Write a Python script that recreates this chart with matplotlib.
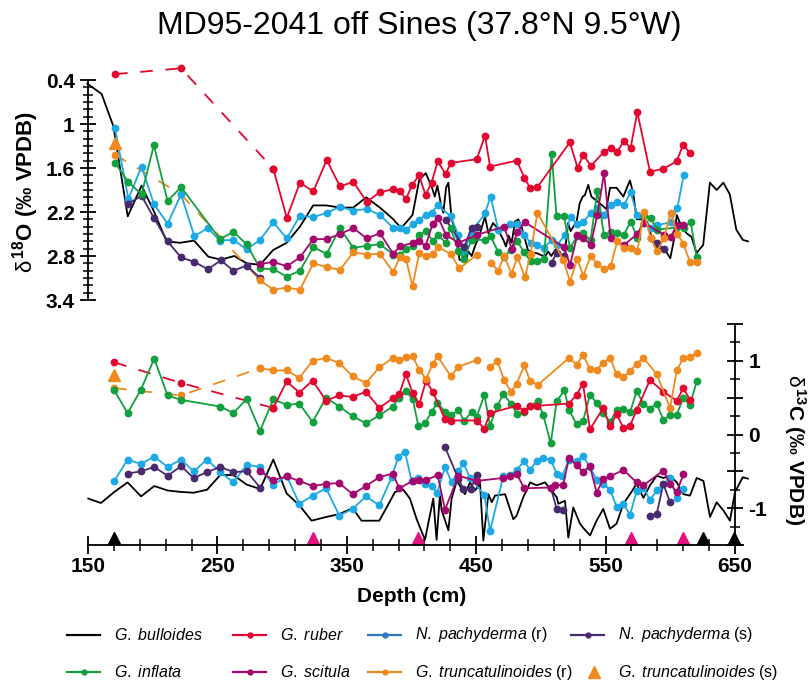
import numpy as np
import matplotlib
matplotlib.use("Agg")
import matplotlib.pyplot as plt
from matplotlib.lines import Line2D
from matplotlib.ticker import FixedLocator, MultipleLocator, FuncFormatter

plt.rcParams['font.family'] = ['Liberation Sans', 'DejaVu Sans']
plt.rcParams['mathtext.fontset'] = 'custom'
plt.rcParams['mathtext.rm'] = 'Liberation Sans'
plt.rcParams['mathtext.it'] = 'Liberation Sans:italic'
plt.rcParams['mathtext.bf'] = 'Liberation Sans:bold'
plt.rcParams['axes.unicode_minus'] = False
nan = np.nan

# ---------------- delta 18O (top panel) ----------------
bul18_d = [149.5,160.5,169.6,180.7,191.4,200.4,210.7,221,232,243,252.8,263,272.6,283,293,303.5,313.8,324,334,345,355,365,375.6,386,392,400.8,406,411,415.5,418,420,423,424.6,426.7,428.5,431,435,437,441.5,444,446.5,449,453,456.8,459.4,463,465.5,471,473,475,477.4,480,482.5,485,490,492.7,496.6,503,505.6,508,511,516,518.6,521,523,527.6,530,532.3,534,536.6,539,548,550.6,553.4,558.5,563.7,568.8,571.4,574,579,583,588,596,600,602.8,605,608.7,612.6,616.4,620.3,625.4,630.6,635.8,641,646,651,656,660]
bul18_v = [0.45,0.59,1.03,2.26,1.84,2.17,2.6,2.62,2.59,2.81,2.85,2.8,2.9,2.92,2.72,2.62,2.4,2.11,2.11,2.14,2.14,2.0,2.14,2.3,2.42,2.24,1.76,1.67,1.85,1.99,1.84,2.12,2.21,1.87,1.8,2.3,2.49,2.85,2.88,2.74,2.8,2.67,2.49,2.26,2.49,2.35,2.4,2.58,2.67,2.52,2.62,2.33,2.3,2.4,2.72,2.75,2.76,2.81,2.74,2.8,2.72,2.65,2.74,2.35,2.46,2.33,2.08,1.99,1.97,1.83,1.99,2.12,2.16,1.87,1.87,1.99,1.77,1.95,2.3,2.3,2.4,2.67,2.72,2.83,2.58,2.24,2.4,2.49,2.54,2.76,2.65,1.8,1.9,1.8,1.96,2.44,2.58,2.6]

rub18_dash_d = [170.9,221.9,293.2]
rub18_dash_v = [0.32,0.24,1.61]
rub18_d = [293.2,303.6,313.8,324.1,334.5,344.7,355,365.4,375.7,385.9,391.1,395.7,400.6,405.8,410.9,415.5,420.2,426.4,430.5,450.4,456.8,460.7,481.3,487.2,491.6,497.3,522.4,528.4,532.7,538.7,548.8,553.9,559,564.2,569.3,574.5,584.3,594.6,604.9,610,615.2]
rub18_v = [1.61,2.28,1.80,1.92,1.49,1.85,1.79,2.06,1.93,1.89,1.92,2.02,1.83,1.70,1.97,1.80,1.51,1.68,1.53,1.48,1.16,1.58,1.50,1.73,1.87,1.86,1.25,1.60,1.42,1.57,1.38,1.33,1.38,1.23,1.33,0.84,1.65,1.61,1.51,1.28,1.40]

npr18_d = [170.9,181.2,191.4,200.9,211.5,221.9,232.2,242.5,252,262.3,272.6,283,293.2,303.6,313.8,324.1,334.5,344.7,355,365.4,375.7,385.9,391,395.7,400.8,405.8,411,415.5,420.2,430.5,436.2,440.6,446.4,456.8,461.1,467.1,476.1,481.8,487,492,497.3,502.4,508.3,512.7,518.6,523,528.1,532.8,538.4,543.6,548.8,553.9,559,564.2,569.3,574.5,579.7,584.8,589.9,600.3,605.4,610.3]
npr18_v = [1.06,2.02,1.58,2.09,2.36,1.96,2.53,2.42,2.59,2.58,2.71,2.58,2.34,2.56,2.25,2.27,2.21,2.13,2.18,2.16,2.24,2.42,2.42,2.45,2.37,2.31,2.24,2.21,2.11,2.26,2.52,2.75,2.47,2.22,1.99,2.44,2.37,2.36,2.51,2.62,2.65,2.69,2.58,2.65,2.51,2.27,2.37,2.34,2.21,2.15,2.24,2.10,2.07,2.11,1.93,2.24,2.26,2.42,2.38,2.34,2.15,1.70]

nps18_d = [180.6,191.4,200.9,211.5,221.9,232.2,242.5,252.8,262.3,272.6,283,nan,426.7,440.6,446.4,450.8,nan,508.3,512.1,517.9,nan,584.8,589.9,595.1]
nps18_v = [2.09,1.98,2.28,2.60,2.82,2.88,2.98,2.86,3.00,2.93,3.10,nan,2.31,2.68,2.42,2.40,nan,2.89,2.76,2.80,nan,2.56,2.62,2.71]

inf18_d = [170.9,181.2,191.4,200.9,211.5,221.9,252,262.3,272.6,283,293.2,303.6,313.8,324.1,334.5,344.7,355,365.4,375.7,385.9,391,395.7,400.8,406,411,416.3,420.7,426.7,430.2,436.2,440.6,446.4,456.8,461.1,467.1,471.5,476.6,481.8,487,492,497.3,502.4,508.3,512.1,517.9,522.5,528.1,532.8,538.4,543.6,548.8,553.9,559,564.2,569.3,574.5,579.7,584.8,589.9,605,610.3,615.7,620.3]
inf18_v = [1.53,1.79,1.96,1.29,2.05,1.86,2.57,2.47,2.64,2.97,2.98,3.08,3.00,2.68,2.77,2.42,2.69,2.66,2.64,2.78,2.78,2.71,2.67,2.52,2.46,2.59,2.52,2.62,2.42,2.73,2.84,2.58,2.58,2.53,2.75,2.81,2.72,2.60,2.75,2.87,2.87,2.84,1.41,2.26,2.26,2.69,2.53,2.49,2.58,1.92,2.52,2.47,2.48,2.51,2.33,2.55,2.26,2.28,2.44,2.41,2.42,2.33,2.81]

sci18_d = [283,293.2,303.6,313.8,324.1,334.5,344.7,355,365.4,375.7,385.9,391,400.8,406,411,416.3,420.7,426.7,436.2,450.8,471.5,477.4,481.8,487.7,517.9,522.5,528.1,532.8,538.4,543.6,548.8,553.9,564.2,574.5,579.7,595.1,600.3,605,610]
sci18_v = [2.91,2.88,2.94,2.82,2.57,2.57,2.50,2.42,2.56,2.49,2.77,2.67,2.62,2.60,2.66,2.36,2.28,2.51,2.62,2.51,2.40,2.70,2.47,2.34,2.68,2.92,2.52,2.55,2.65,2.24,1.67,2.56,2.65,2.50,2.35,2.51,2.54,2.38,2.38]

trr18_dash_d = [170.9,221.9,283]
trr18_dash_v = [1.42,1.96,3.13]
trr18_d = [283,293.2,303.6,313.8,324.1,334.5,344.7,355,365.4,375.7,385.9,391,395.7,400.8,406,411,416.3,420.7,430.2,437,450.8,nan,461.1,467.1,471.5,477.4,481.8,487.7,492,497.3,517.3,522.5,528.1,532.8,538.4,543.6,548.8,553.9,559,564.2,569.3,574.5,579.7,584.8,589.9,595,600.3,605.4,610,615.2,620.3]
trr18_v = [3.13,3.26,3.23,3.26,2.90,2.95,2.99,2.75,2.78,2.77,3.02,2.81,2.84,3.21,2.76,2.80,2.77,2.68,2.77,2.97,2.78,nan,2.89,3.00,2.80,3.04,2.81,3.09,2.77,2.21,2.85,3.15,2.84,3.07,2.80,2.91,2.98,2.94,2.60,2.69,2.69,2.73,2.20,2.56,2.73,2.56,2.21,2.50,2.63,2.88,2.88]

trs18_d = [170.9]
trs18_v = [1.26]

# ---------------- delta 13C (bottom panel) ----------------
bul13_d = [150.2,160,170.3,180.6,191,201.2,211.6,221.9,231.7,242,252.2,262.3,272.6,283,293.2,303.5,313.3,322.8,334,344.2,354.5,361.4,375.1,380.8,387.3,393.7,398.8,404,410.4,416.8,419.4,422,423.3,428.5,431,435,441.3,445.2,449,453,455.5,459.4,462,464.5,472.3,478.7,481.3,486.4,489,491.6,496.7,503.2,512.2,513.5,518.6,521.2,525,530.2,532.8,538,543,548.2,553.4,558.5,563.7,568.9,574,579.2,584.3,589.5,594.6,599.8,605,610.1,615.2,620.4,625.6,630.7,635.8,641,646.1,650,656,660]
bul13_v = [-0.87,-0.93,-0.78,-0.65,-0.84,-0.70,-0.76,-0.78,-0.79,-0.75,-0.55,-0.55,-0.68,-0.74,-0.34,-0.80,-0.96,-1.17,-1.12,-1.08,-1.00,-1.17,-1.17,-0.99,-0.78,-0.75,-0.87,-1.15,-1.43,-0.87,-1.43,-0.81,-1.03,-1.30,-0.87,-0.63,-0.81,-0.65,-0.76,-0.67,-1.44,-0.81,-0.92,-0.83,-0.81,-1.15,-1.10,-0.85,-0.76,-0.65,-0.69,-0.65,-0.85,-0.94,-0.90,-1.40,-0.99,-1.21,-1.27,-1.37,-1.17,-1.01,-1.28,-1.21,-0.94,-0.81,-0.67,-0.86,-0.69,-0.56,-0.59,-0.56,-0.65,-0.81,-0.83,-0.59,-0.63,-1.12,-0.92,-1.03,-1.17,-0.78,-0.58,-0.60]

rub13_dash_d = [170.3,221.9,293.2]
rub13_dash_v = [0.98,0.70,0.36]
rub13_d = [293.2,303.5,313.3,323.6,334,344.2,354.5,364.8,375.1,385.5,390.6,395.7,400.9,406,411.2,416.4,425.9,430.5,450.4,456.3,460.7,481.3,487,491.6,497.3,521.7,527.6,532.5,537.9,548.2,553.4,558.5,563.7,568.9,574,584.3,594.6,605,610.1,615.2]
rub13_v = [0.36,0.72,0.57,0.73,0.46,0.53,0.51,0.58,0.36,0.49,0.55,0.82,0.56,0.41,0.73,0.58,0.21,0.19,0.19,0.08,0.29,0.39,0.32,0.39,0.39,0.42,0.54,0.69,0.07,0.36,0.11,0.28,0.09,0.12,0.33,0.74,0.58,0.46,0.63,0.47]

trr13_dash_d = [170.3,221.9,283]
trr13_dash_v = [0.63,0.53,0.90]
trr13_d = [283,293.2,303.5,313.3,323.6,334,344.2,354.5,364.8,375.1,385.5,390.6,395.7,400.9,406,411.2,416.4,420.2,430.5,436.2,450.4,nan,460.7,466.3,471.5,476.9,481.3,487.2,491.6,497.5,521.7,527.6,532.5,537.9,543.1,548.2,553.4,558.5,563.7,568.9,574,579.2,589.5,599.8,605,610.1,615.2,620.4]
trr13_v = [0.90,0.87,0.87,0.77,1.00,1.04,0.97,0.79,0.70,0.91,1.04,1.01,1.05,1.06,0.88,0.75,0.96,1.06,0.79,0.92,1.01,nan,0.91,1.00,0.74,0.58,0.69,0.94,0.73,0.67,1.04,0.95,1.08,0.89,0.88,0.97,1.04,0.82,0.78,0.86,0.96,1.04,0.82,0.36,0.87,1.04,1.05,1.11]

trs13_d = [170.3]
trs13_v = [0.81]

inf13_d = [170.3,180.6,190.9,201.2,211.5,221.9,252.2,262.3,272.6,283,293.2,303.5,313.3,323.6,334,344.2,354.5,364.8,375.1,385.5,390.6,395.7,400.9,405.3,410.4,415.6,419.9,425.9,430.5,436.2,440.6,446.4,450.4,456.3,460.7,466.3,471,476.9,481.3,487.2,491.6,497.5,501.9,507.6,512.2,518.1,521.7,527.6,532.5,537.9,543.1,548.2,553.4,558.5,563.7,568.9,574,579.2,584.3,589.5,594.6,599.8,605,610.1,615.2,620.4]
inf13_v = [0.60,0.29,0.61,1.03,0.53,0.47,0.38,0.29,0.48,0.05,0.48,0.40,0.42,0.17,0.50,0.38,0.25,0.15,0.26,0.38,0.50,0.59,0.48,0.12,0.15,0.31,0.43,0.31,0.26,0.33,0.19,0.30,0.24,0.54,0.12,0.39,0.55,0.42,0.28,0.30,0.39,0.45,0.26,-0.12,0.45,0.60,0.33,0.14,0.18,0.54,0.43,0.29,0.17,0.33,0.34,0.30,0.59,0.42,0.35,0.42,0.20,0.26,0.27,0.50,0.40,0.72]

npr13_d = [170.3,180.6,190.9,201.2,211.5,221.9,231.7,242,252.2,262.3,272.6,283,293.2,303.5,313.3,323.6,334,344.2,354.5,364.8,375.1,384.7,389.8,395,400.1,405.3,410.4,415.6,419.9,425.9,431,436.2,440.1,445.3,456.3,460.7,471,476.1,481.3,487,491.6,496.7,501.9,507.6,512.2,516.6,521.7,527.6,532.5,537.9,543.1,548.2,553.4,558.5,563.7,568.9,574,579.2,584.3,589.5,599.8,605,610.1]
npr13_v = [-0.63,-0.34,-0.40,-0.30,-0.44,-0.34,-0.50,-0.34,-0.51,-0.65,-0.41,-0.44,-0.69,-0.56,-0.94,-0.83,-0.73,-1.10,-1.01,-0.84,-0.96,-0.58,-0.30,-0.24,-0.63,-0.59,-0.67,-0.70,-0.79,-0.44,-0.65,-0.50,-0.39,-0.59,-0.82,-1.31,-0.56,-0.55,-0.48,-0.36,-0.48,-0.36,-0.32,-0.34,-0.53,-0.56,-0.34,-0.36,-0.29,-0.44,-0.62,-0.67,-0.75,-0.98,-0.94,-1.09,-0.77,-0.72,-0.89,-0.76,-0.59,-0.86,-0.74]

sci13_d = [283,293.2,303.5,313.3,323.6,334,344.2,354.5,364.8,375.1,385.5,390.6,400.9,406,411.2,420.2,425.9,436.2,450.4,471,476.1,481.3,487,507.6,511,517.3,521.7,527.6,532.5,537.9,543.1,548.2,553.4,563.7,574,579.2,594.6,599.8,605,610.1]
sci13_v = [-0.50,-0.62,-0.57,-0.63,-0.70,-0.67,-0.66,-0.81,-0.70,-0.58,-0.53,-0.73,-0.63,-0.62,-0.62,-0.55,-1.02,-0.56,-0.63,-0.59,-0.56,-0.53,-0.73,-0.72,-0.69,-0.68,-0.32,-0.42,-0.51,-0.43,-0.79,-0.60,-0.57,-0.48,-0.65,-0.69,-0.49,-0.67,-0.78,-0.54]

nps13_d = [180.6,190.9,201.2,211.5,221.9,231.7,242,252.2,262.3,272.6,283,nan,425.9,436.2,440.1,445.7,450.4,nan,507.6,512.2,517.3,nan,584.3,589.5,594.6,599.8]
nps13_v = [-0.53,-0.50,-0.44,-0.56,-0.43,-0.59,-0.51,-0.44,-0.51,-0.50,-0.72,nan,-0.17,-0.60,-0.74,-0.74,-0.55,nan,-0.72,-1.01,-1.02,nan,-1.10,-1.08,-0.67,-0.92]

# age-control markers along the depth axis
tri_black_d = [170, 625, 649]
tri_pink_d = [324, 405, 569.5, 610]

# ---------------- styling ----------------
C_BUL = '#000000'
C_RUB = '#E3062F'
C_NPR = '#1DA9E6'
C_NPR_LEG = '#2F78C2'
C_NPS = '#4A2A6E'
C_INF = '#12A03E'
C_SCI = '#A4086E'
C_TRR = '#F08A1F'

W, H = 809, 682
fig = plt.figure(figsize=(W / 100, H / 100), dpi=100)
ax1 = fig.add_axes([88 / W, 1 - 300 / H, 647 / W, 220 / H])
ax2 = fig.add_axes([88 / W, 1 - 545 / H, 647 / W, 221 / H])

LW = 1.3
MS = 4.6


def dashed(ax, d, v, color):
    ax.plot(d, v, color=color, lw=LW, ls=(0, (7, 7)), clip_on=False)
    ax.plot(d, v, 'o', color=color, ms=MS, clip_on=False)


for ax in (ax1, ax2):
    ax.set_xlim(150, 650)
    ax.patch.set_alpha(0)

# top panel
ax1.plot(bul18_d, bul18_v, color=C_BUL, lw=LW, clip_on=False)
dashed(ax1, rub18_dash_d, rub18_dash_v, C_RUB)
dashed(ax1, trr18_dash_d[:2], trr18_dash_v[:2], C_TRR)
ax1.plot(trr18_dash_d[1:], trr18_dash_v[1:], color=C_TRR, lw=LW, ls=(0, (7, 7)))
for d, v, c in [(npr18_d, npr18_v, C_NPR), (nps18_d, nps18_v, C_NPS),
                (inf18_d, inf18_v, C_INF), (sci18_d, sci18_v, C_SCI),
                (trr18_d, trr18_v, C_TRR), (rub18_d, rub18_v, C_RUB)]:
    ax1.plot(d, v, '-o', color=c, lw=LW, ms=MS, clip_on=False)
ax1.plot(trs18_d, trs18_v, '^', color=C_TRR, ms=8, clip_on=False)

ax1.set_ylim(3.4, 0.4)
for s in ('top', 'right', 'bottom'):
    ax1.spines[s].set_visible(False)
ax1.spines['left'].set_linewidth(1.3)
ax1.set_xticks([])
ax1.yaxis.set_major_locator(FixedLocator([0.4, 1.0, 1.6, 2.2, 2.8, 3.4]))
ax1.yaxis.set_minor_locator(MultipleLocator(0.1))
ax1.yaxis.set_major_formatter(FuncFormatter(lambda x, p: ('%.1f' % x).rstrip('0').rstrip('.') if abs(x - 1) > 1e-6 else '1'))
ax1.tick_params(axis='y', which='major', direction='inout', length=11, width=1.3,
                labelsize=15, pad=4)
ax1.tick_params(axis='y', which='minor', direction='inout', length=7, width=1.1)
for t in ax1.get_yticklabels():
    t.set_fontweight('bold')

# bottom panel
ax2.plot(bul13_d, bul13_v, color=C_BUL, lw=LW, clip_on=False)
dashed(ax2, rub13_dash_d, rub13_dash_v, C_RUB)
dashed(ax2, trr13_dash_d, trr13_dash_v, C_TRR)
for d, v, c in [(npr13_d, npr13_v, C_NPR), (nps13_d, nps13_v, C_NPS),
                (sci13_d, sci13_v, C_SCI), (inf13_d, inf13_v, C_INF),
                (rub13_d, rub13_v, C_RUB), (trr13_d, trr13_v, C_TRR)]:
    ax2.plot(d, v, '-o', color=c, lw=LW, ms=MS, clip_on=False)
ax2.plot(trs13_d, trs13_v, '^', color=C_TRR, ms=8, clip_on=False)
ax2.plot(tri_black_d, [-1.41] * len(tri_black_d), '^', color='black', ms=8, clip_on=False)
ax2.plot(tri_pink_d, [-1.41] * len(tri_pink_d), '^', color='#E0127E', ms=8, clip_on=False)

ax2.set_ylim(-1.5, 1.5)
for s in ('top', 'left'):
    ax2.spines[s].set_visible(False)
ax2.spines['right'].set_linewidth(1.3)
ax2.spines['bottom'].set_linewidth(1.3)
ax2.spines['bottom'].set_bounds(150, 656)
ax2.yaxis.tick_right()
ax2.yaxis.set_major_locator(FixedLocator([-1.5, -1, -0.5, 0, 0.5, 1, 1.5]))
ax2.yaxis.set_minor_locator(MultipleLocator(0.25))
ax2.yaxis.set_major_formatter(FuncFormatter(lambda x, p: '%d' % x if abs(x - round(x)) < 1e-6 and abs(x) < 1.4 else ''))
ax2.tick_params(axis='y', which='major', direction='inout', length=11, width=1.3,
                labelsize=15, pad=4)
ax2.tick_params(axis='y', which='minor', direction='inout', length=7, width=1.1)
ax2.xaxis.set_major_locator(FixedLocator([150, 250, 350, 450, 550, 650]))
ax2.xaxis.set_minor_locator(MultipleLocator(20, offset=10))
ax2.tick_params(axis='x', which='major', direction='inout', length=13, width=1.3,
                labelsize=15, pad=2)
ax2.tick_params(axis='x', which='minor', direction='inout', length=8, width=1.1)
for t in ax2.get_yticklabels() + ax2.get_xticklabels():
    t.set_fontweight('bold')
ax2.set_xlabel('Depth (cm)', fontsize=15, fontweight='bold', labelpad=8)

# titles and axis labels
fig.text(419 / W, 1 - 26 / H, 'MD95-2041 off Sines (37.8°N 9.5°W)', fontsize=23,
         ha='center', va='center')
fig.text(26 / W, 1 - 192 / H, r'$\mathrm{\delta}^{\,\mathbf{18}}$O (‰ VPDB)', rotation=90,
         fontsize=16, fontweight='bold', ha='center', va='center')
fig.text(795 / W, 1 - 450 / H, r'$\mathrm{\delta}^{\,\mathbf{13}}$C (‰ VPDB)', rotation=270,
         fontsize=15, fontweight='bold', ha='center', va='center')

# legend (manual, two rows of four)
leg = [
    (67, 635, C_BUL, None, r'$\mathit{G.\ bulloides}$'),
    (233, 635, C_RUB, 'o', r'$\mathit{G.\ ruber}$'),
    (368, 635, C_NPR_LEG, 'o', r'$\mathit{N.\ pachyderma}$ (r)'),
    (571, 635, C_NPS, 'o', r'$\mathit{N.\ pachyderma}$ (s)'),
    (67, 672, C_INF, 'o', r'$\mathit{G.\ inflata}$'),
    (233, 672, C_SCI, 'o', r'$\mathit{G.\ scitula}$'),
    (368, 672, C_TRR, 'o', r'$\mathit{G.\ truncatulinoides}$ (r)'),
    (571, 672, C_TRR, '^', r'$\mathit{G.\ truncatulinoides}$ (s)'),
]
for x0, y0, c, m, lab in leg:
    yf = 1 - y0 / H
    if m == '^':
        fig.add_artist(Line2D([(x0 + 23) / W], [yf], marker='^', color=c, ms=8,
                              ls='none', transform=fig.transFigure))
    else:
        fig.add_artist(Line2D([x0 / W, (x0 + 33) / W], [yf, yf], color=c, lw=1.6,
                              transform=fig.transFigure))
        if m:
            fig.add_artist(Line2D([(x0 + 16.5) / W], [yf], marker='o', color=c, ms=3.5,
                                  ls='none', transform=fig.transFigure))
    fig.text((x0 + 47) / W, yf, lab, fontsize=11.5, ha='left', va='center')

fig.savefig('out.png', dpi=100)
